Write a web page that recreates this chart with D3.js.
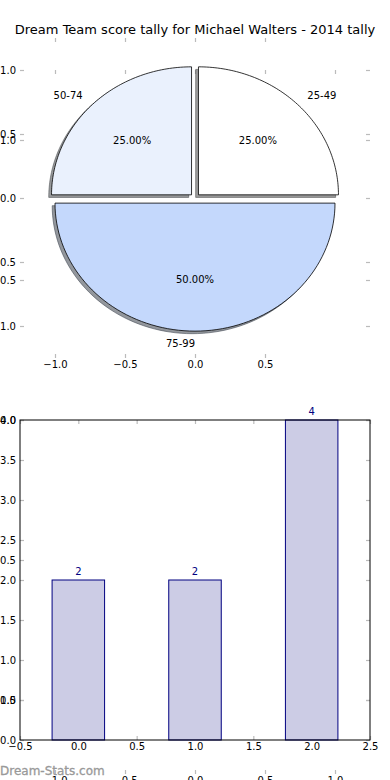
<!DOCTYPE html>
<html><head><meta charset="utf-8">
<script src="https://cdn.jsdelivr.net/npm/d3@7"></script>
<style>body{margin:0;background:#fff} svg{display:block;font-family:"DejaVu Sans",sans-serif}</style>
</head><body>
<script>
// ---- data ----
const categories = ["25-49", "50-74", "75-99"];
const counts = [2, 2, 4];
const explode = [0.035, 0.035, 0.04];
const pieColors = ["#ffffff", "#eaf1fd", "#c4d8fc"];
const pieTicksX = [-1, -0.5, 0, 0.5];
const pieTicksY = [-1, -0.5, 0, 0.5, 1];
const ghostTicks = [-1, -0.5, 0, 0.5, 1];
const barX = [0, 1, 2];
const barTicksX = [-0.5, 0, 0.5, 1, 1.5, 2, 2.5];
const barTicksY = [0, 0.5, 1, 1.5, 2, 2.5, 3, 3.5, 4];
const title = "Dream Team score tally for Michael Walters - 2014 tally";
const watermark = "Dream-Stats.com";

const W = 390, H = 780;
const svg = d3.select("body").append("svg").attr("width", W).attr("height", H);

// ---- scales ----
const xA = d3.scaleLinear().domain([-1.25, 1.25]).range([20, 370]);
const yA = d3.scaleLinear().domain([-1.25, 1.25]).range([358, 38]);
const xB = d3.scaleLinear().domain([-1.25, 1.25]).range([20, 370]);
const yB = d3.scaleLinear().domain([-1.25, 1.25]).range([770, 70]);
const xC = d3.scaleLinear().domain([-0.5, 2.5]).range([20, 370]);
const yC = d3.scaleLinear().domain([0, 4]).range([740, 420]);

const fmt = d3.format(".1f");
const TICK = "#bbbbbb";

function axisSet(xs, ys, xt, yt, box, showBottom, showLeft) {
  const g = svg.append("g");
  const mk = (axis, tr, labels) => {
    const a = g.append("g").attr("transform", tr).call(axis);
    a.select(".domain").remove();
    a.selectAll("line").attr("stroke", TICK).attr("stroke-width", 1.2);
    a.selectAll("text").attr("fill", "#000").attr("font-size", 10)
      .attr("font-family", "DejaVu Sans, sans-serif");
    if (!labels) a.selectAll("text").remove();
  };
  mk(d3.axisBottom(xs).tickValues(xt).tickSizeInner(-4).tickSizeOuter(0).tickPadding(3).tickFormat(fmt),
     `translate(0,${box.bottom})`, showBottom);
  mk(d3.axisTop(xs).tickValues(xt).tickSizeInner(-4).tickSizeOuter(0).tickFormat(fmt),
     `translate(0,${box.top})`, false);
  mk(d3.axisLeft(ys).tickValues(yt).tickSizeInner(-4).tickSizeOuter(0).tickPadding(4).tickFormat(fmt),
     `translate(${box.left},0)`, showLeft);
  mk(d3.axisRight(ys).tickValues(yt).tickSizeInner(-4).tickSizeOuter(0).tickFormat(fmt),
     `translate(${box.right},0)`, false);
  return g;
}

// ghost axes B (full height)
axisSet(xB, yB, ghostTicks, ghostTicks, {top: 70, bottom: 774, left: 20, right: 370}, true, true);
// pie axes A
axisSet(xA, yA, pieTicksX, pieTicksY, {top: 38, bottom: 358, left: 20, right: 370}, true, true);

// ---- pie ----
const total = d3.sum(counts);
let acc = 0;
const wedges = counts.map((c, i) => {
  const t1 = acc / total * 2 * Math.PI;
  acc += c;
  const t2 = acc / total * 2 * Math.PI;
  const mid = (t1 + t2) / 2;
  const cx = explode[i] * Math.cos(mid), cy = explode[i] * Math.sin(mid);
  const pts = [[cx, cy]];
  const n = 80;
  for (let k = 0; k <= n; k++) {
    const t = t1 + (t2 - t1) * k / n;
    pts.push([cx + Math.cos(t), cy + Math.sin(t)]);
  }
  return {i, t1, t2, mid, cx, cy, pts};
});
const lineA = d3.line().x(d => xA(d[0])).y(d => yA(d[1])).curve(d3.curveLinearClosed);
const pieG = svg.append("g");
// shadows
wedges.forEach(w => {
  const col = d3.rgb(pieColors[w.i]);
  const sc = d3.rgb(col.r * 0.3, col.g * 0.3, col.b * 0.3);
  pieG.append("path")
    .attr("d", lineA(w.pts.map(p => [p[0] - 0.02, p[1] - 0.02])))
    .attr("fill", sc).attr("fill-opacity", 0.55)
    .attr("stroke", sc).attr("stroke-opacity", 0.55).attr("stroke-width", 1);
});
wedges.forEach(w => {
  pieG.append("path").attr("d", lineA(w.pts))
    .attr("fill", pieColors[w.i]).attr("stroke", "#000").attr("stroke-width", 0.8)
    .attr("stroke-linejoin", "miter");
});
wedges.forEach(w => {
  const lx = w.cx + 1.1 * Math.cos(w.mid), ly = w.cy + 1.1 * Math.sin(w.mid);
  pieG.append("text").attr("x", xA(lx)).attr("y", yA(ly)).attr("dy", "0.35em")
    .attr("text-anchor", lx > 0 ? "start" : "end")
    .attr("font-size", 10).text(categories[w.i]);
  const px = w.cx + 0.6 * Math.cos(w.mid), py = w.cy + 0.6 * Math.sin(w.mid);
  pieG.append("text").attr("x", xA(px)).attr("y", yA(py)).attr("dy", "0.35em")
    .attr("text-anchor", "middle").attr("font-size", 10)
    .text(d3.format(".2f")(counts[w.i] / total * 100) + "%");
});

// ---- bar chart C ----
axisSet(xC, yC, barTicksX, barTicksY, {top: 420, bottom: 740, left: 20, right: 370}, true, true);
const barW = 0.45;
const barG = svg.append("g");
barG.selectAll("rect.bar").data(barX).join("rect").attr("class", "bar")
  .attr("x", d => xC(d - barW / 2)).attr("width", d => xC(d + barW / 2) - xC(d - barW / 2))
  .attr("y", (d, i) => yC(counts[i])).attr("height", (d, i) => yC(0) - yC(counts[i]))
  .attr("fill", "#cccce5").attr("stroke", "#000080").attr("stroke-width", 1);
barG.selectAll("text.val").data(barX).join("text").attr("class", "val")
  .attr("x", d => xC(d)).attr("y", (d, i) => yC(counts[i]) - 5)
  .attr("text-anchor", "middle").attr("font-size", 10).attr("fill", "#000080")
  .text((d, i) => counts[i]);
// spines
svg.append("rect").attr("x", xC(-0.5)).attr("y", yC(4)).attr("width", xC(2.5) - xC(-0.5))
  .attr("height", yC(0) - yC(4)).attr("fill", "none").attr("stroke", "#000").attr("stroke-width", 1);

// ---- title & watermark ----
svg.append("text").attr("x", 195).attr("y", 34).attr("text-anchor", "middle")
  .attr("font-size", 13).text(title);
svg.append("text").attr("x", 0).attr("y", 775).attr("font-size", 12)
  .attr("fill", "#999").attr("stroke", "#999").attr("stroke-width", 0.3).text(watermark);
</script>
</body></html>
